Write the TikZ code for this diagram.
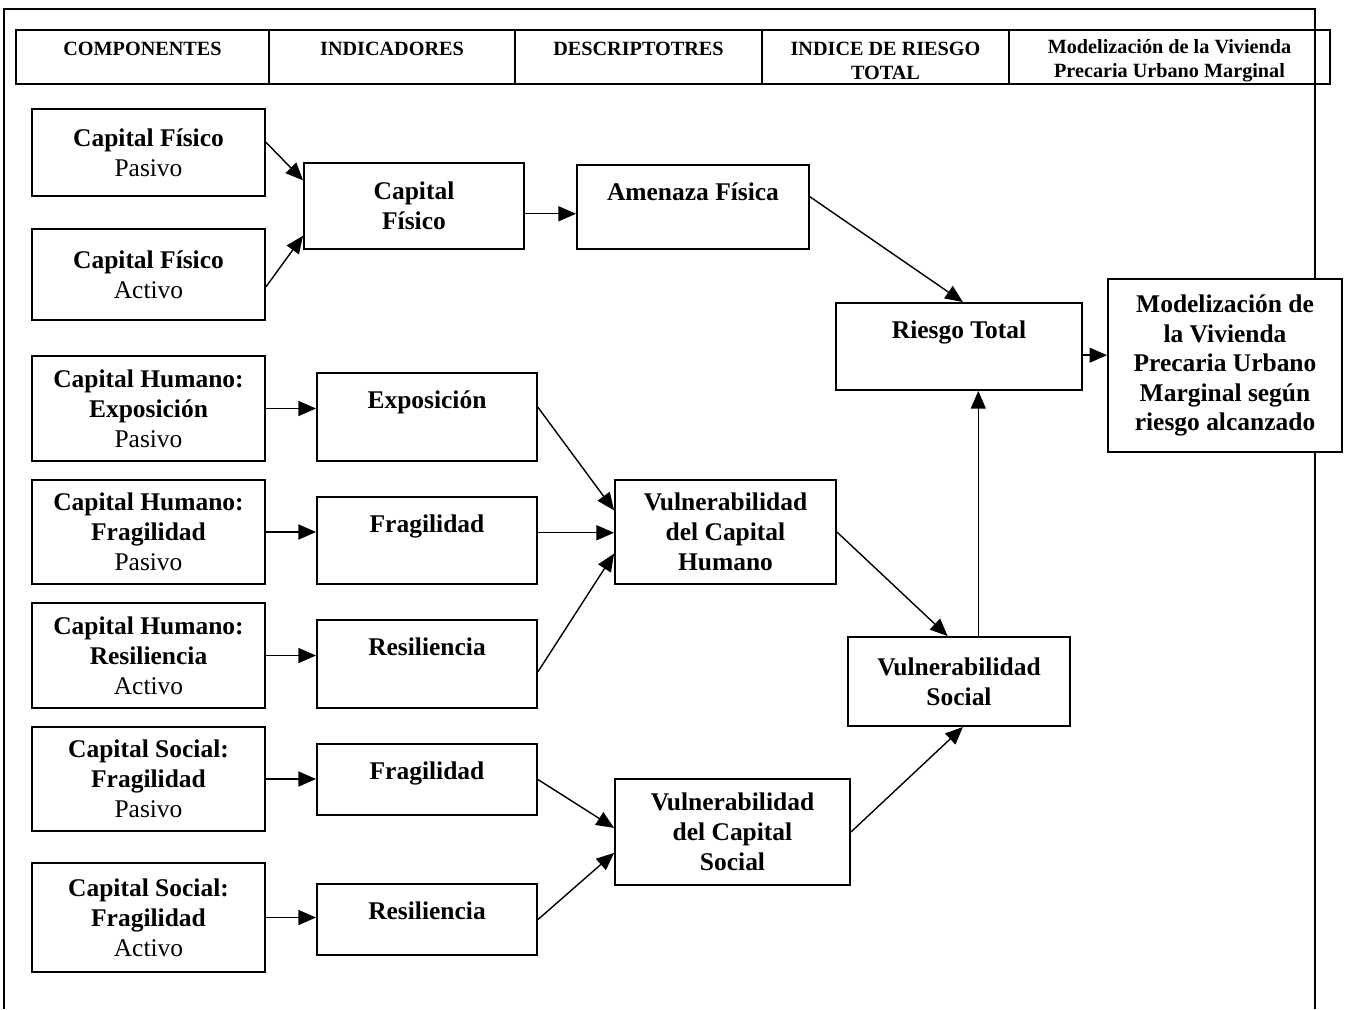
\documentclass[tikz,border=0pt]{standalone}
\usepackage{fontspec}
\setmainfont{Liberation Serif}
\usetikzlibrary{arrows.meta}

\tikzset{
	caja/.style={draw, fill=white, line width=1.1pt, align=center, inner sep=0pt, font=\fontsize{14.5}{17}\selectfont\bfseries},
	arriba/.style={text height=20pt, text depth=#1},
	flecha/.style={-{Triangle[length=10pt,width=8.5pt]}, line width=0.8pt},
	cabecera/.style={align=center, inner sep=0pt, font=\fontsize{11.5}{13.7}\selectfont\bfseries}
}

\begin{document}
\begin{tikzpicture}[x=0.02cm, y=-0.02cm]
	\useasboundingbox (0,0) rectangle (1345,1009);

	\draw[line width=1.1pt] (4,1009) -- (4,9) -- (1315,9) -- (1315,1009);

	% cabecera
	\draw[line width=1.1pt] (16,30) rectangle (1330,84);
	\foreach \x in {269,515,762,1009}
		\draw[line width=1.1pt] (\x,30) -- (\x,84);

	\node[cabecera] (hcomp) at (142.5,49) {COMPONENTES};
	\node[cabecera] (hind) at (392,49) {INDICADORES};
	\node[cabecera] (hdesc) at (638.5,49) {DESCRIPTOTRES};
	\node[cabecera] (hriesgo) at (885.5,61) {INDICE DE RIESGO\\TOTAL};
	\node[cabecera] (hmodel) at (1169.5,61) {Modelización de la Vivienda\\Precaria Urbano Marginal};

	% componentes
	\node[caja, minimum width=4.66cm, minimum height=1.74cm] (cfp) at (148.5,152.5) {Capital Físico\\{\mdseries Pasivo}};
	\node[caja, minimum width=4.66cm, minimum height=1.82cm] (cfa) at (148.5,274.5) {Capital Físico\\{\mdseries Activo}};
	\node[caja, minimum width=4.66cm, minimum height=2.1cm] (che) at (148.5,408.5) {Capital Humano:\\Exposición\\{\mdseries Pasivo}};
	\node[caja, minimum width=4.66cm, minimum height=2.08cm] (chf) at (148.5,532) {Capital Humano:\\Fragilidad\\{\mdseries Pasivo}};
	\node[caja, minimum width=4.66cm, minimum height=2.1cm] (chr) at (148.5,655.5) {Capital Humano:\\Resiliencia\\{\mdseries Activo}};
	\node[caja, minimum width=4.66cm, minimum height=2.08cm] (csf) at (148.5,779) {Capital Social:\\Fragilidad\\{\mdseries Pasivo}};
	\node[caja, minimum width=4.66cm, minimum height=2.18cm] (csa) at (148.5,917.5) {Capital Social:\\Fragilidad\\{\mdseries Activo}};

	% indicadores
	\node[caja, minimum width=4.4cm, minimum height=1.72cm] (cf) at (414,206) {Capital\\Físico};
	\node[caja, arriba=30.1pt, minimum width=4.4cm, minimum height=1.76cm] (expo) at (427,417) {Exposición};
	\node[caja, arriba=29.5pt, minimum width=4.4cm, minimum height=1.74cm] (frag) at (427,540.5) {Fragilidad};
	\node[caja, arriba=30.1pt, minimum width=4.4cm, minimum height=1.76cm] (resil) at (427,664) {Resiliencia};
	\node[caja, arriba=20.4pt, minimum width=4.4cm, minimum height=1.42cm] (sfrag) at (427,779.5) {Fragilidad};
	\node[caja, arriba=20.4pt, minimum width=4.4cm, minimum height=1.42cm] (sresil) at (427,919.5) {Resiliencia};

	% descriptores
	\node[caja, arriba=27.8pt, minimum width=4.64cm, minimum height=1.68cm] (af) at (693,207) {Amenaza Física};
	\node[caja, minimum width=4.42cm, minimum height=2.08cm] (vch) at (725.5,532) {Vulnerabilidad\\del Capital\\Humano};
	\node[caja, minimum width=4.7cm, minimum height=2.12cm] (vcs) at (732.5,832) {Vulnerabilidad\\del Capital\\Social};
	\node[caja, minimum width=4.44cm, minimum height=1.78cm] (vs) at (959,681.5) {Vulnerabilidad\\Social};

	% indice y modelizacion
	\node[caja, arriba=29.5pt, minimum width=4.92cm, minimum height=1.74cm] (rt) at (959,346.5) {Riesgo Total};
	\node[caja, font=\fontsize{14.5}{16.8}\selectfont\bfseries, minimum width=4.68cm, minimum height=3.46cm] (mv) at (1225,365.5) {Modelización de\\la Vivienda\\Precaria Urbano\\Marginal según\\riesgo alcanzado};

	% flechas
	\draw[flecha] (cfp.5) -- (cf.167);
	\draw[flecha] (cfa.-6) -- (cf.195);
	\draw[flecha] (cf.-4) -- (cf.-4 -| af.west);
	\draw[flecha] (af.5) -- (rt.85);
	\draw[flecha] (rt.-4) -- (rt.-4 -| mv.west);

	\draw[flecha] (che.east) -- (che.east -| expo.west);
	\draw[flecha] (chf.east) -- (chf.east -| frag.west);
	\draw[flecha] (chr.east) -- (chr.east -| resil.west);
	\draw[flecha] (csf.east) -- (csf.east -| sfrag.west);
	\draw[flecha] (csa.east) -- (csa.east -| sresil.west);

	\draw[flecha] (expo.5) -- (vch.169);
	\draw[flecha] (frag.4) -- (frag.4 -| vch.west);
	\draw[flecha] (resil.-4) -- (vch.191);
	\draw[flecha] (sfrag.east) -- (vcs.178);
	\draw[flecha] (sresil.east) -- (vcs.190);

	\draw[flecha] (vch.east) -- (vs.104);
	\draw[flecha] (vcs.east) -- (vs.-85);
	\draw[flecha] (vs.67) -- (vs.67 |- rt.south);
\end{tikzpicture}
\end{document}
